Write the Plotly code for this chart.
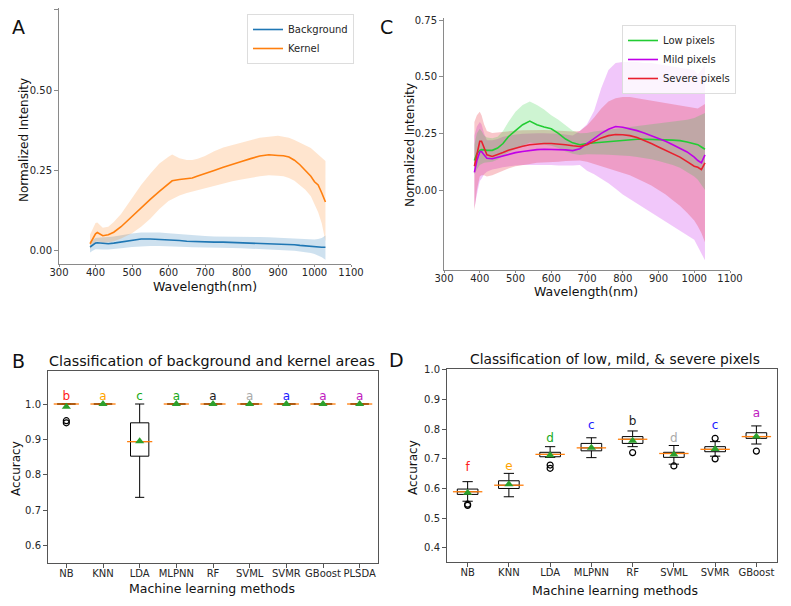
import plotly.graph_objects as go

# ---------------- Panel A data ----------------
wl_A = [385, 392, 400, 405, 412, 420, 435, 450, 470, 500, 525, 550, 575, 600, 610, 630, 650, 665, 680, 700,
        725, 750, 775, 800, 825, 850, 875, 890, 900, 915, 930, 945, 960, 975, 990, 1000, 1010, 1020, 1030]
kernel_mean = [0.022, 0.035, 0.053, 0.057, 0.052, 0.047, 0.050, 0.058, 0.075, 0.108, 0.135, 0.160, 0.185, 0.210,
               0.218, 0.222, 0.225, 0.227, 0.233, 0.240, 0.250, 0.260, 0.270, 0.278, 0.287, 0.295, 0.299, 0.299,
               0.297, 0.296, 0.292, 0.282, 0.268, 0.250, 0.232, 0.215, 0.205, 0.180, 0.152]
kernel_upper = [0.050, 0.070, 0.087, 0.088, 0.080, 0.072, 0.075, 0.090, 0.115, 0.165, 0.205, 0.240, 0.272, 0.293,
                0.300, 0.288, 0.283, 0.283, 0.287, 0.295, 0.310, 0.322, 0.330, 0.338, 0.345, 0.352, 0.355, 0.357,
                0.358, 0.355, 0.352, 0.345, 0.337, 0.330, 0.320, 0.310, 0.300, 0.292, 0.280]
kernel_lower = [0.005, 0.015, 0.028, 0.030, 0.028, 0.025, 0.027, 0.030, 0.038, 0.055, 0.075, 0.100, 0.130, 0.155,
                0.160, 0.172, 0.180, 0.185, 0.190, 0.195, 0.202, 0.210, 0.217, 0.222, 0.228, 0.232, 0.235, 0.235,
                0.234, 0.232, 0.227, 0.218, 0.205, 0.190, 0.170, 0.145, 0.120, 0.085, 0.030]
bg_mean = [0.012, 0.018, 0.024, 0.025, 0.024, 0.022, 0.022, 0.024, 0.028, 0.034, 0.037, 0.037, 0.036, 0.035,
           0.034, 0.032, 0.030, 0.029, 0.028, 0.027, 0.027, 0.027, 0.026, 0.026, 0.026, 0.025, 0.024, 0.023,
           0.022, 0.021, 0.020, 0.019, 0.017, 0.015, 0.013, 0.012, 0.012, 0.011, 0.011]
bg_upper = [0.028, 0.034, 0.040, 0.041, 0.041, 0.041, 0.043, 0.045, 0.049, 0.054, 0.057, 0.058, 0.057, 0.055,
            0.054, 0.052, 0.050, 0.048, 0.047, 0.046, 0.045, 0.045, 0.045, 0.044, 0.044, 0.043, 0.042, 0.042,
            0.041, 0.040, 0.039, 0.038, 0.037, 0.036, 0.035, 0.035, 0.037, 0.040, 0.048]
bg_lower = [-0.005, 0.000, 0.005, 0.006, 0.005, 0.004, 0.004, 0.005, 0.008, 0.012, 0.014, 0.015, 0.015, 0.015,
            0.014, 0.013, 0.012, 0.011, 0.010, 0.010, 0.009, 0.009, 0.009, 0.008, 0.007, 0.006, 0.005, 0.004,
            0.003, 0.002, 0.001, 0.000, -0.002, -0.004, -0.007, -0.010, -0.014, -0.020, -0.028]

# ---------------- Panel C data ----------------
wl_C = [385, 392, 400, 405, 412, 420, 435, 450, 465, 480, 500, 520, 540, 560, 580, 600, 620, 640, 660, 680,
        700, 720, 740, 760, 780, 800, 820, 840, 860, 880, 900, 920, 940, 960, 980, 1000, 1010, 1020, 1030]
low_mean = [0.130, 0.160, 0.175, 0.178, 0.177, 0.175, 0.175, 0.185, 0.205, 0.235, 0.262, 0.288, 0.304, 0.288,
            0.278, 0.270, 0.250, 0.225, 0.208, 0.200, 0.205, 0.208, 0.210, 0.213, 0.216, 0.219, 0.222, 0.224,
            0.224, 0.222, 0.222, 0.221, 0.220, 0.218, 0.212, 0.205, 0.200, 0.190, 0.180]
low_upper = [0.200, 0.250, 0.270, 0.260, 0.240, 0.232, 0.228, 0.235, 0.260, 0.300, 0.345, 0.375, 0.390, 0.375,
             0.355, 0.330, 0.310, 0.285, 0.262, 0.250, 0.252, 0.258, 0.262, 0.266, 0.270, 0.274, 0.278, 0.282,
             0.286, 0.290, 0.294, 0.298, 0.302, 0.306, 0.310, 0.318, 0.325, 0.330, 0.340]
low_lower = [0.070, 0.090, 0.110, 0.115, 0.120, 0.122, 0.125, 0.135, 0.150, 0.165, 0.180, 0.195, 0.210, 0.205,
             0.200, 0.195, 0.185, 0.170, 0.160, 0.155, 0.158, 0.158, 0.157, 0.156, 0.155, 0.153, 0.150, 0.146,
             0.142, 0.136, 0.128, 0.120, 0.110, 0.098, 0.080, 0.060, 0.045, 0.025, 0.000]
mild_mean = [0.078, 0.130, 0.168, 0.170, 0.155, 0.140, 0.138, 0.145, 0.152, 0.158, 0.165, 0.170, 0.175, 0.178,
             0.180, 0.180, 0.179, 0.177, 0.174, 0.182, 0.205, 0.228, 0.250, 0.268, 0.280, 0.277, 0.270, 0.262,
             0.252, 0.240, 0.228, 0.215, 0.200, 0.185, 0.168, 0.145, 0.130, 0.120, 0.155]
mild_upper = [0.240, 0.280, 0.300, 0.290, 0.250, 0.220, 0.220, 0.225, 0.235, 0.240, 0.245, 0.248, 0.250, 0.250,
              0.250, 0.250, 0.248, 0.245, 0.240, 0.260, 0.290, 0.350, 0.450, 0.530, 0.560, 0.565, 0.565, 0.565,
              0.560, 0.560, 0.555, 0.550, 0.545, 0.540, 0.535, 0.530, 0.510, 0.530, 0.550]
mild_lower = [-0.080, -0.020, 0.040, 0.050, 0.070, 0.080, 0.090, 0.095, 0.100, 0.105, 0.108, 0.110, 0.112, 0.112,
              0.110, 0.110, 0.108, 0.107, 0.108, 0.110, 0.085, 0.070, 0.050, 0.030, 0.005, -0.020, -0.040, -0.060,
              -0.080, -0.100, -0.120, -0.140, -0.160, -0.180, -0.200, -0.220, -0.250, -0.280, -0.310]
sev_mean = [0.105, 0.160, 0.215, 0.215, 0.190, 0.155, 0.148, 0.155, 0.165, 0.175, 0.185, 0.193, 0.200, 0.203,
            0.205, 0.205, 0.203, 0.200, 0.195, 0.192, 0.200, 0.215, 0.230, 0.240, 0.245, 0.244, 0.240, 0.232,
            0.220, 0.205, 0.190, 0.175, 0.160, 0.145, 0.125, 0.105, 0.100, 0.090, 0.120]
sev_upper = [0.300, 0.330, 0.345, 0.330, 0.290, 0.260, 0.252, 0.255, 0.258, 0.260, 0.262, 0.264, 0.265, 0.265,
             0.265, 0.264, 0.262, 0.260, 0.258, 0.260, 0.285, 0.320, 0.360, 0.390, 0.405, 0.410, 0.410, 0.405,
             0.400, 0.395, 0.390, 0.385, 0.380, 0.375, 0.370, 0.365, 0.360, 0.370, 0.380]
sev_lower = [-0.090, 0.000, 0.060, 0.065, 0.065, 0.060, 0.065, 0.075, 0.085, 0.095, 0.105, 0.110, 0.115, 0.120,
             0.122, 0.124, 0.125, 0.128, 0.130, 0.130, 0.125, 0.115, 0.105, 0.095, 0.085, 0.075, 0.065, 0.050,
             0.035, 0.020, 0.000, -0.020, -0.045, -0.070, -0.100, -0.135, -0.160, -0.190, -0.230]

# ---------------- Panel B data ----------------
methods_B = ["NB", "KNN", "LDA", "MLPNN", "RF", "SVML", "SVMR", "GBoost", "PLSDA"]
B_q1 = [1.0, 1.0, 0.853, 1.0, 1.0, 1.0, 1.0, 1.0, 1.0]
B_med = [1.0, 1.0, 0.894, 1.0, 1.0, 1.0, 1.0, 1.0, 1.0]
B_q3 = [1.0, 1.0, 0.947, 1.0, 1.0, 1.0, 1.0, 1.0, 1.0]
B_lo = [1.0, 1.0, 0.737, 1.0, 1.0, 1.0, 1.0, 1.0, 1.0]
B_hi = [1.0, 1.0, 1.0, 1.0, 1.0, 1.0, 1.0, 1.0, 1.0]
B_mean = [0.992, 1.0, 0.895, 1.0, 1.0, 1.0, 1.0, 1.0, 1.0]
B_out_pos = [1, 1]
B_out_val = [0.953, 0.947]
B_letters = ["b", "a", "c", "a", "a", "a", "a", "a", "a"]
B_letter_y = [1.021, 1.021, 1.021, 1.021, 1.021, 1.021, 1.021, 1.021, 1.021]
B_letter_col = ["#ff2020", "#ffa500", "#1aaa1a", "#1aaa1a", "#222222", "#aaaaaa", "#2020ff", "#c020c0", "#c020c0"]

# ---------------- Panel D data ----------------
methods_D = ["NB", "KNN", "LDA", "MLPNN", "RF", "SVML", "SVMR", "GBoost"]
D_q1 = [0.580, 0.600, 0.707, 0.727, 0.752, 0.705, 0.724, 0.769]
D_med = [0.589, 0.611, 0.715, 0.737, 0.766, 0.718, 0.732, 0.775]
D_q3 = [0.598, 0.626, 0.722, 0.752, 0.775, 0.722, 0.741, 0.788]
D_lo = [0.557, 0.572, 0.705, 0.704, 0.741, 0.682, 0.709, 0.750]
D_hi = [0.623, 0.651, 0.741, 0.771, 0.794, 0.745, 0.758, 0.811]
D_mean = [0.586, 0.614, 0.712, 0.737, 0.761, 0.715, 0.733, 0.775]
D_out_pos = [1, 1, 3, 3, 5, 6, 7, 7, 8]
D_out_val = [0.547, 0.543, 0.679, 0.668, 0.721, 0.676, 0.769, 0.700, 0.726]
D_letters = ["f", "e", "d", "c", "b", "d", "c", "a"]
D_letter_y = [0.669, 0.673, 0.766, 0.810, 0.823, 0.766, 0.810, 0.850]
D_letter_col = ["#ff2020", "#ffa500", "#1aaa1a", "#2020ff", "#222222", "#aaaaaa", "#2020ff", "#c020c0"]

FONT = "DejaVu Sans"
# the page body keeps its default 8px margin, so the figure is sized to fill the window exactly
OFF = 8
W, H = 791 - 2 * OFF, 606 - 2 * OFF


def px_x(p):
    return (p - OFF) / W


def px_y(p):
    return 1 - (p - OFF) / H


fig = go.Figure()


def band(x, up, lo, color, xa, ya):
    fig.add_trace(go.Scatter(x=list(x) + list(x)[::-1], y=list(up) + list(lo)[::-1], fill="toself",
                             fillcolor=color, line=dict(width=0), mode="lines", hoverinfo="skip",
                             showlegend=False, xaxis=xa, yaxis=ya))


# Panel A
band(wl_A, bg_upper, bg_lower, "rgba(31,119,180,0.22)", "x", "y")
band(wl_A, kernel_upper, kernel_lower, "rgba(255,127,14,0.2)", "x", "y")
fig.add_trace(go.Scatter(x=wl_A, y=bg_mean, mode="lines", name="Background",
                         line=dict(color="#1f77b4", width=1.6), xaxis="x", yaxis="y", legend="legend"))
fig.add_trace(go.Scatter(x=wl_A, y=kernel_mean, mode="lines", name="Kernel",
                         line=dict(color="#ff7f0e", width=1.6), xaxis="x", yaxis="y", legend="legend"))

# Panel C
GREEN, PURPLE, RED = "#22cc33", "#c000e8", "#e8202e"
band(wl_C, mild_upper, mild_lower, "rgba(192,0,232,0.22)", "x2", "y2")
band(wl_C, sev_upper, sev_lower, "rgba(232,32,46,0.25)", "x2", "y2")
band(wl_C, low_upper, low_lower, "rgba(34,204,51,0.22)", "x2", "y2")
fig.add_trace(go.Scatter(x=wl_C, y=low_mean, mode="lines", name="Low pixels",
                         line=dict(color=GREEN, width=1.6), xaxis="x2", yaxis="y2", legend="legend2"))
fig.add_trace(go.Scatter(x=wl_C, y=mild_mean, mode="lines", name="Mild pixels",
                         line=dict(color=PURPLE, width=1.6), xaxis="x2", yaxis="y2", legend="legend2"))
fig.add_trace(go.Scatter(x=wl_C, y=sev_mean, mode="lines", name="Severe pixels",
                         line=dict(color=RED, width=1.6), xaxis="x2", yaxis="y2", legend="legend2"))


def boxes(names, q1, med, q3, lo, hi, mean, opos, oval, letters, ly, lcol, xa, ya, medsize):
    pos = list(range(1, len(names) + 1))
    fig.add_trace(go.Box(x=pos, q1=q1, median=med, q3=q3, lowerfence=lo, upperfence=hi,
                         boxpoints=False, width=0.5, whiskerwidth=0.5, fillcolor="rgba(0,0,0,0)",
                         line=dict(color="black", width=1), showlegend=False, xaxis=xa, yaxis=ya,
                         hoverinfo="skip"))
    fig.add_trace(go.Scatter(x=pos, y=med, mode="markers", showlegend=False, xaxis=xa, yaxis=ya,
                             marker=dict(symbol="line-ew", size=medsize,
                                         line=dict(color="#ff7f0e", width=1.3))))
    fig.add_trace(go.Scatter(x=opos, y=oval, mode="markers", showlegend=False, xaxis=xa, yaxis=ya,
                             marker=dict(symbol="circle-open", size=6, color="black",
                                         line=dict(color="black", width=1.2))))
    fig.add_trace(go.Scatter(x=pos, y=mean, mode="markers", showlegend=False, xaxis=xa, yaxis=ya,
                             marker=dict(symbol="triangle-up", size=8, color="#2ca02c")))
    fig.add_trace(go.Scatter(x=pos, y=ly, mode="text", text=letters, showlegend=False, xaxis=xa, yaxis=ya,
                             textposition="middle center",
                             textfont=dict(family=FONT, size=12, color=lcol)))


boxes(methods_B, B_q1, B_med, B_q3, B_lo, B_hi, B_mean, B_out_pos, B_out_val,
      B_letters, B_letter_y, B_letter_col, "x3", "y3", 18)
boxes(methods_D, D_q1, D_med, D_q3, D_lo, D_hi, D_mean, D_out_pos, D_out_val,
      D_letters, D_letter_y, D_letter_col, "x4", "y4", 21)

AX = dict(showgrid=False, zeroline=False, showline=True, linecolor="#555555", linewidth=1,
          ticks="outside", ticklen=4, tickcolor="#555555", automargin=False, tickangle=0,
          tickfont=dict(family=FONT, size=10, color="#262626"))
SPEC = dict(AX, linecolor="#8a8a8a", tickcolor="#8a8a8a")
XS = dict(SPEC, ticklen=2, ticklabelstandoff=-3)
YS = dict(SPEC)
XB = dict(AX, ticklabelstandoff=-3)

fig.update_layout(
    width=W, height=H, margin=dict(l=0, r=0, t=0, b=0, autoexpand=False),
    paper_bgcolor="white", plot_bgcolor="white",
    font=dict(family=FONT, color="#262626"),
    xaxis=dict(XS, domain=[px_x(59), px_x(351)], range=[300, 1100], tickvals=list(range(300, 1101, 100)),
               anchor="y"),
    yaxis=dict(YS, domain=[px_y(264), px_y(8)], range=[-0.041, 0.756], tickvals=[0, 0.25, 0.5, 0.75],
               tickformat=".2f", anchor="x"),
    xaxis2=dict(XS, domain=[px_x(444), px_x(730)], range=[300, 1100], tickvals=list(range(300, 1101, 100)),
                anchor="y2"),
    yaxis2=dict(YS, domain=[px_y(270), px_y(18)], range=[-0.353, 0.759], tickvals=[0, 0.25, 0.5, 0.75],
                tickformat=".2f", anchor="x2"),
    xaxis3=dict(XB, domain=[px_x(48), px_x(378)], range=[0.5, 9.5], tickvals=list(range(1, 10)),
                ticktext=methods_B, mirror=True, anchor="y3"),
    yaxis3=dict(AX, domain=[px_y(563), px_y(371)], range=[0.552, 1.093],
                tickvals=[0.6, 0.7, 0.8, 0.9, 1.0], tickformat=".1f", mirror=True, anchor="x3"),
    xaxis4=dict(XB, domain=[px_x(447), px_x(777)], range=[0.5, 8.5], tickvals=list(range(1, 9)),
                ticktext=methods_D, mirror=True, anchor="y4"),
    yaxis4=dict(AX, domain=[px_y(562), px_y(369)], range=[0.352, 1.003],
                tickvals=[0.4, 0.5, 0.6, 0.7, 0.8, 0.9, 1.0], tickformat=".1f", mirror=True, anchor="x4"),
    legend=dict(x=px_x(247), y=px_y(14), xanchor="left", yanchor="top",
                bgcolor="rgba(255,255,255,0.8)", bordercolor="#dddddd", borderwidth=1,
                font=dict(family=FONT, size=10, color="#262626"), itemwidth=30, tracegroupgap=0),
    legend2=dict(x=px_x(622), y=px_y(25), xanchor="left", yanchor="top",
                 bgcolor="rgba(255,255,255,0.8)", bordercolor="#dddddd", borderwidth=1,
                 font=dict(family=FONT, size=10, color="#262626"), itemwidth=30, tracegroupgap=0),
    showlegend=True,
)

ann = []


def add_text(text, x, y, size, angle=0):
    ann.append(dict(text=text, x=px_x(x), y=px_y(y), xref="paper", yref="paper", showarrow=False,
                    xanchor="center", yanchor="middle", textangle=angle,
                    font=dict(family=FONT, size=size, color="#111111")))


add_text("A", 18, 27, 19)
add_text("C", 386, 27, 19)
add_text("B", 18, 361, 19)
add_text("D", 396, 360, 19)
add_text("Wavelength(nm)", 205, 286, 12.5)
add_text("Normalized Intensity", 24, 140, 12, -90)
add_text("Wavelength(nm)", 586, 291, 12.5)
add_text("Normalized Intensity", 410, 145, 12, -90)
add_text("Classification of background and kernel areas", 212, 361, 14.3)
add_text("Classification of low, mild, &amp; severe pixels", 615, 359, 13.8)
add_text("Machine learning methods", 212, 588, 12.5)
add_text("Accuracy", 16, 469, 12, -90)
add_text("Machine learning methods", 615, 590, 12.5)
add_text("Accuracy", 413, 468, 12, -90)
fig.update_layout(annotations=ann)

fig.write_html("out.html")
